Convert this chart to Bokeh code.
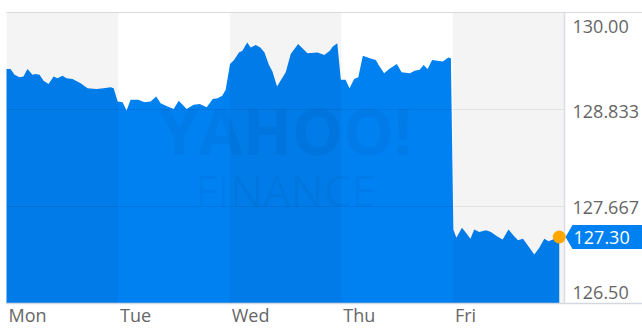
from bokeh.plotting import figure
from bokeh.models import Range1d
from bokeh.core.properties import value
from bokeh.embed import file_html
from bokeh.resources import INLINE

# ---------------- data ----------------
days = ["Mon", "Tue", "Wed", "Thu", "Fri"]
y_ticks = [130.0, 128.833, 127.667, 126.5]
y_tick_labels = ["130.00", "128.833", "127.667", "126.50"]
last_price = 127.30
last_label = "127.30"

# time in trading days since Monday open
mon_t = [0.000, 0.036, 0.072, 0.117, 0.152, 0.188, 0.233, 0.260, 0.296, 0.332, 0.377, 0.422,
         0.457, 0.502, 0.538, 0.592, 0.664, 0.726, 0.807, 0.870, 0.933, 0.960, 0.996]
mon_p = [129.32, 129.32, 129.25, 129.22, 129.23, 129.32, 129.25, 129.26, 129.25, 129.18, 129.14, 129.23,
         129.21, 129.24, 129.21, 129.20, 129.15, 129.09, 129.08, 129.09, 129.10, 129.09, 128.93]

tue_t = [1.040, 1.076, 1.112, 1.179, 1.238, 1.291, 1.341, 1.381, 1.444, 1.498, 1.543, 1.578,
         1.614, 1.677, 1.731, 1.794, 1.848, 1.892, 1.933, 1.964]
tue_p = [128.92, 128.82, 128.95, 128.95, 128.92, 128.93, 128.99, 128.91, 128.87, 128.84, 128.94, 128.89,
         128.84, 128.89, 128.90, 128.86, 128.96, 128.97, 129.00, 129.07]

wed_t = [2.003, 2.039, 2.083, 2.114, 2.157, 2.188, 2.233, 2.274, 2.312, 2.352, 2.383, 2.424,
         2.502, 2.547, 2.613, 2.697, 2.787, 2.848, 2.897, 2.924, 2.964, 2.996]
wed_p = [129.38, 129.43, 129.52, 129.54, 129.64, 129.58, 129.61, 129.58, 129.52, 129.37, 129.29, 129.11,
         129.28, 129.50, 129.62, 129.51, 129.52, 129.49, 129.54, 129.59, 129.63, 129.19]

thu_t = [3.038, 3.074, 3.115, 3.152, 3.193, 3.256, 3.309, 3.339, 3.384, 3.429, 3.498, 3.540,
         3.616, 3.657, 3.702, 3.738, 3.773, 3.814, 3.910, 3.958, 3.982]
thu_p = [129.19, 129.09, 129.20, 129.22, 129.48, 129.45, 129.43, 129.36, 129.27, 129.32, 129.38, 129.28,
         129.27, 129.30, 129.31, 129.37, 129.32, 129.43, 129.41, 129.46, 129.45]

fri_t = [4.004, 4.031, 4.081, 4.117, 4.157, 4.191, 4.236, 4.296, 4.341, 4.395, 4.446, 4.498,
         4.541, 4.583, 4.628, 4.686, 4.729, 4.774, 4.819, 4.857, 4.897, 4.953]
fri_p = [127.39, 127.29, 127.41, 127.35, 127.28, 127.39, 127.36, 127.38, 127.36, 127.31, 127.27, 127.39,
         127.32, 127.26, 127.28, 127.17, 127.09, 127.17, 127.28, 127.25, 127.27, 127.30]

t = mon_t + tue_t + wed_t + thu_t + fri_t
price = mon_p + tue_p + wed_p + thu_p + fri_p

# ---------------- layout ----------------
W, H = 642, 335
LEFT, RIGHT, TOP, BOTTOM = 6, 564, 12, 303
n = len(days)
y_lo, y_hi = min(y_ticks), max(y_ticks)
dx = n / (RIGHT - LEFT)            # days per pixel
dy = (y_hi - y_lo) / (BOTTOM - TOP)  # price per pixel

BLUE = "#0081f2"
FONT = value("Open Sans")

p = figure(width=W, height=H, output_backend="svg", toolbar_location=None,
           x_range=Range1d(-LEFT * dx, n + (W - RIGHT) * dx),
           y_range=Range1d(y_lo - (H - BOTTOM) * dy, y_hi + TOP * dy),
           x_axis_type=None, y_axis_type=None, min_border=0)
p.outline_line_color = None
p.background_fill_color = "white"
p.border_fill_color = "white"

# area
p.varea(x=t, y1=y_lo, y2=price, fill_color=BLUE)

# watermark
p.text(x=[n / 2], y=[128.58], text=["YAHOO!"], text_font=FONT, text_font_style="bold",
       text_font_size="64px", text_align="center", text_baseline="middle",
       text_color="black", text_alpha=0.038)
p.text(x=[n / 2], y=[127.86], text=["FINANCE"], text_font=FONT,
       text_font_size="44px", text_align="center", text_baseline="middle",
       text_color="black", text_alpha=0.04)

# alternating day bands
band_left = [i for i in range(n) if i % 2 == 0]
p.quad(left=band_left, right=[b + 1 for b in band_left], bottom=y_lo, top=y_hi,
       fill_color="black", fill_alpha=0.045, line_color=None)

# grid lines
mid = [v for v in y_ticks if y_lo < v < y_hi]
p.segment(x0=0, x1=n, y0=mid, y1=mid, line_color="black", line_alpha=0.075, line_width=1)

# borders
x_edge = n + (W - RIGHT) * dx
p.segment(x0=0, x1=x_edge, y0=y_hi, y1=y_hi, line_color="#d9d9e0", line_width=1.2)
p.segment(x0=0, x1=x_edge, y0=y_lo, y1=y_lo, line_color="#d3d7de", line_width=1.5)
p.segment(x0=n, x1=n, y0=y_lo, y1=y_hi, line_color="#dcdce2", line_width=1.5)

# y labels (vertically centred; end labels pushed inside the frame)
offs = []
for v in y_ticks:
    if v == y_hi:
        offs.append(14)
    elif v == y_lo:
        offs.append(-11)
    else:
        offs.append(1.5)
p.text(x=[n] * len(y_ticks), y=y_ticks, text=y_tick_labels, x_offset=8, y_offset=offs,
       text_font=FONT, text_font_size="18px", text_color="#666666",
       text_align="left", text_baseline="middle")

# day labels
p.text(x=list(range(n)), y=[y_lo] * n, text=days, x_offset=2, y_offset=11,
       text_font=FONT, text_font_size="18px", text_color="#666666",
       text_align="left", text_baseline="middle")

# last price marker and tag
half = 12 * dy
tip = n + 1 * dx
body = n + 8 * dx
p.patch(x=[tip, body, x_edge, x_edge, body],
        y=[last_price, last_price + half, last_price + half, last_price - half, last_price - half],
        fill_color=BLUE, line_color=None)
p.text(x=[n], y=[last_price], text=[last_label], x_offset=9, y_offset=1,
       text_font=FONT, text_font_size="18px", text_color="white",
       text_align="left", text_baseline="middle")
p.scatter(x=[t[-1]], y=[price[-1]], size=13, fill_color="#ffa700", line_color=None)

open("out.html", "w").write(file_html(p, INLINE))
